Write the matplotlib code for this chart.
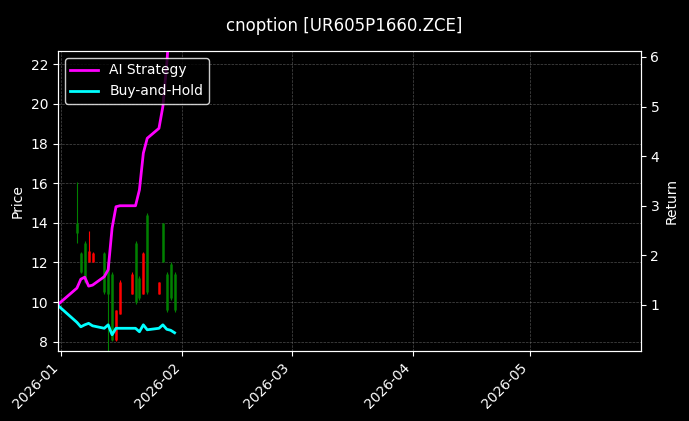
import matplotlib
matplotlib.use("Agg")
import matplotlib.pyplot as plt
import matplotlib.dates as mdates
import numpy as np
import pandas as pd

plt.style.use("dark_background")

candle_dates = ["2026-01-05","2026-01-06","2026-01-07","2026-01-08","2026-01-09",
                "2026-01-12","2026-01-13","2026-01-14","2026-01-15","2026-01-16",
                "2026-01-19","2026-01-20","2026-01-21","2026-01-22","2026-01-23",
                "2026-01-26","2026-01-27","2026-01-28","2026-01-29","2026-01-30"]
opens  = [13.5, 11.5, 11.0, 12.6, 12.5, 10.5, 10.4, 8.1, 9.6, 11.0, 11.4, 10.0, 10.2, 12.5, 10.5, 11.0, 12.0, 9.6, 10.2, 9.6]
closes = [14.0, 12.5, 13.0, 12.0, 12.0, 12.5, 12.0, 11.4, 8.1, 9.4, 10.4, 13.0, 11.2, 10.4, 14.4, 10.4, 14.0, 11.4, 11.9, 11.4]
highs  = [16.05, 12.55, 13.1, 13.6, 12.55, 12.55, 12.0, 11.5, 9.6, 11.1, 11.5, 13.1, 11.3, 12.55, 14.5, 11.0, 14.0, 11.5, 12.0, 11.5]
lows   = [13.0, 11.45, 10.95, 12.0, 12.0, 10.4, 7.5, 8.05, 8.05, 9.4, 10.4, 9.9, 10.1, 10.4, 10.4, 10.4, 12.0, 9.5, 10.1, 9.5]

line_dates = ["2025-12-31"] + candle_dates
ai_return = [1.0, 1.34, 1.52, 1.56, 1.38, 1.40, 1.57, 1.71, 2.55, 2.98, 3.0,
             3.0, 3.0, 3.32, 4.06, 4.36, 4.56, 5.0, 5.85, 7.0, 7.5]
bh_return = [1.0, 0.65, 0.56, 0.60, 0.63, 0.58, 0.53, 0.60, 0.40, 0.53, 0.53,
             0.53, 0.53, 0.46, 0.60, 0.50, 0.53, 0.60, 0.51, 0.49, 0.44]

cd = pd.to_datetime(candle_dates)
ld = pd.to_datetime(line_dates)

fig = plt.figure(figsize=(6.89, 4.21), dpi=100)
ax = fig.add_axes([0.084, 0.166, 0.846, 0.713])
for d, o, c, h, l in zip(cd, opens, closes, highs, lows):
    col = "green" if c >= o else "red"
    ax.vlines(d, l, h, color=col, linewidth=0.8)
    ax.vlines(d, min(o, c), max(o, c), color=col, linewidth=1.8)
ax.set_ylim(7.53, 22.67)
ax.set_xlim(pd.Timestamp("2025-12-31 03:00"), pd.Timestamp("2026-05-29 08:00"))
ax.set_ylabel("Price")
ax.grid(True, linestyle="--", linewidth=0.5, color="gray", alpha=0.6)
ax.xaxis.set_major_locator(mdates.MonthLocator())
ax.xaxis.set_major_formatter(mdates.DateFormatter("%Y-%m"))
plt.setp(ax.get_xticklabels(), rotation=45, ha="right")

ax2 = ax.twinx()
ax2.plot(ld, ai_return, color="magenta", linewidth=2, label="AI Strategy")
ax2.plot(ld, bh_return, color="cyan", linewidth=2, label="Buy-and-Hold")
ax2.set_ylim(0.07, 6.12)
ax2.set_ylabel("Return")
ax2.legend(loc="upper left", facecolor="black", edgecolor="white")

fig.suptitle("cnoption [UR605P1660.ZCE]", y=0.96)
fig.savefig("out.png", dpi=100)
